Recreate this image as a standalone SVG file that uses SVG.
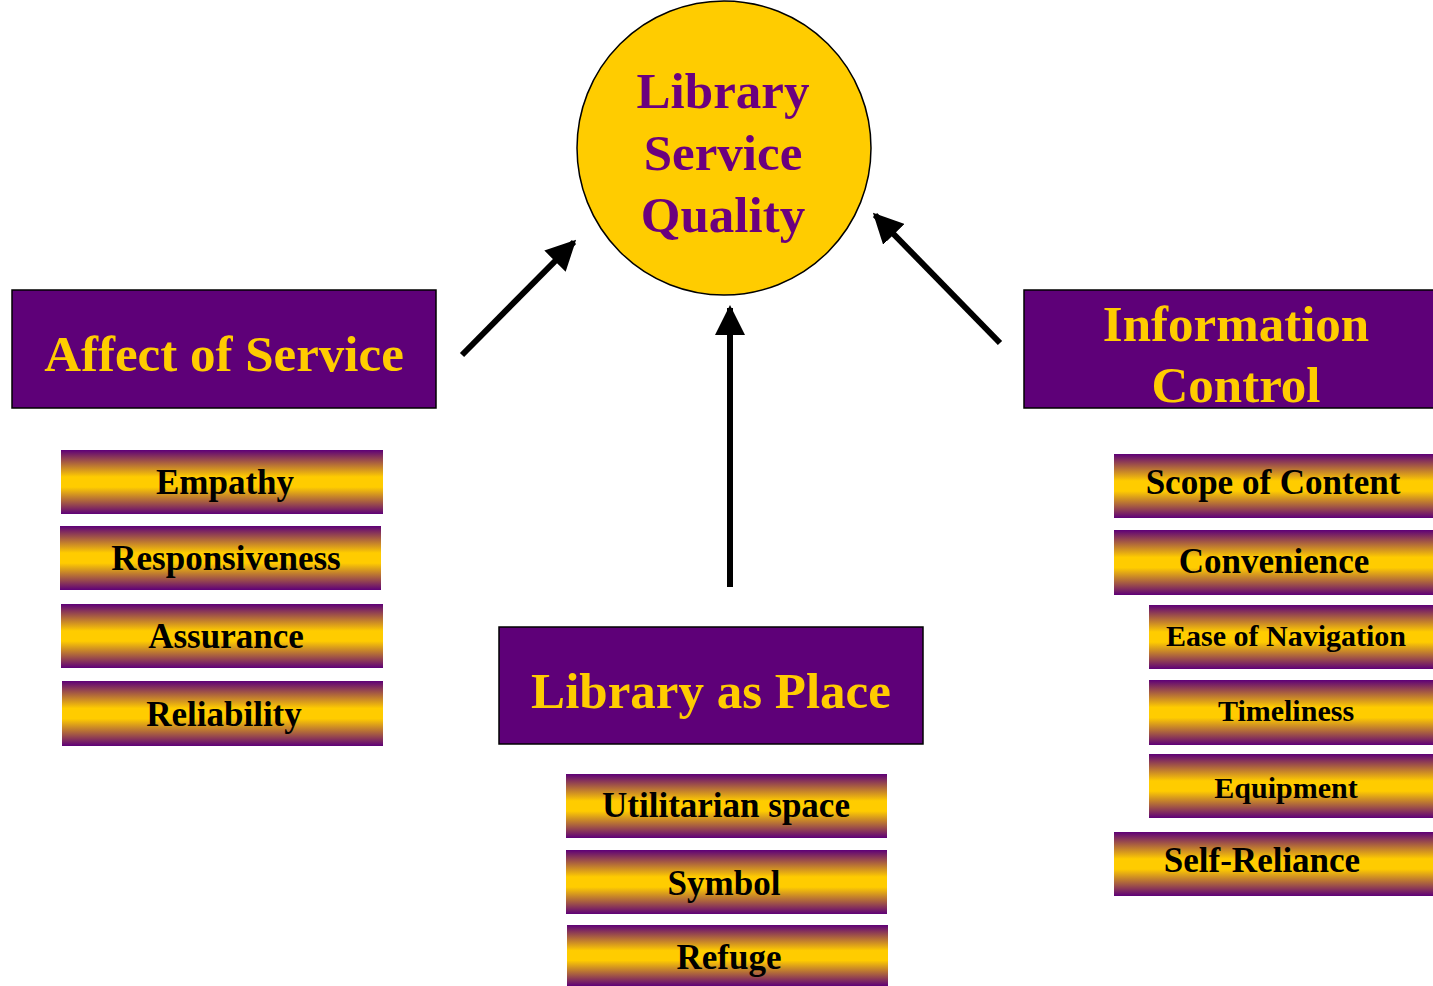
<svg xmlns="http://www.w3.org/2000/svg" width="1433" height="986" viewBox="0 0 1433 986">
<defs>
<linearGradient id="bar" x1="0" y1="0" x2="0" y2="1">
<stop offset="0" stop-color="#5E0078"/>
<stop offset="0.42" stop-color="#FFCC00"/>
<stop offset="0.58" stop-color="#FFCC00"/>
<stop offset="1" stop-color="#5E0078"/>
</linearGradient>
<marker id="ah" viewBox="0 0 10 10" refX="9" refY="5" markerWidth="5" markerHeight="5" orient="auto" markerUnits="strokeWidth">
<path d="M0,0 L10,5 L0,10 z" fill="#000"/>
</marker>
<style>
.hdr{fill:#5E0078;stroke:#000;stroke-width:1.5}
.hdrt{font-family:"Liberation Serif",serif;font-weight:bold;font-size:51px;fill:#FFCC00;text-anchor:middle}
.bar{fill:url(#bar)}
.bt{font-family:"Liberation Serif",serif;font-weight:bold;font-size:35px;fill:#000;text-anchor:middle}
.bts{font-family:"Liberation Serif",serif;font-weight:bold;font-size:30px;fill:#000;text-anchor:middle}
.ct{font-family:"Liberation Serif",serif;font-weight:bold;font-size:51px;fill:#6B007E;text-anchor:middle}
.arr{stroke:#000;stroke-width:6;fill:none;marker-end:url(#ah)}
</style>
</defs>
<rect width="1433" height="986" fill="#fff"/>
<g id="connectors">
<line class="arr" x1="462" y1="355" x2="574" y2="242"/>
<line class="arr" x1="730" y1="587" x2="730" y2="308"/>
<line class="arr" x1="1000" y1="343" x2="875" y2="215"/>
</g>
<g id="quality">
<circle cx="724" cy="148" r="147" fill="#FFCC00" stroke="#000" stroke-width="1.5"/>
<text class="ct" x="723" y="108">Library</text>
<text class="ct" x="723" y="170">Service</text>
<text class="ct" x="723" y="232">Quality</text>
</g>
<g id="affect">
<rect class="hdr" x="12" y="290" width="424" height="118"/>
<text class="hdrt" x="224" y="371">Affect of Service</text>
</g>
<g id="place">
<rect class="hdr" x="499" y="627" width="424" height="117"/>
<text class="hdrt" x="711" y="708">Library as Place</text>
</g>
<g id="info">
<rect class="hdr" x="1024" y="290" width="412" height="118"/>
<text class="hdrt" x="1236" y="341">Information</text>
<text class="hdrt" x="1236" y="402">Control</text>
</g>
<g id="empathy"><rect class="bar" x="61" y="450" width="322" height="64"/><text class="bt" x="225" y="494">Empathy</text></g>
<g id="responsiveness"><rect class="bar" x="60" y="526" width="321" height="64"/><text class="bt" x="226" y="570">Responsiveness</text></g>
<g id="assurance"><rect class="bar" x="61" y="604" width="322" height="64"/><text class="bt" x="226" y="648">Assurance</text></g>
<g id="reliability"><rect class="bar" x="62" y="681" width="321" height="65"/><text class="bt" x="224" y="726">Reliability</text></g>
<g id="utilitarian"><rect class="bar" x="566" y="774" width="321" height="64"/><text class="bt" x="726" y="817">Utilitarian space</text></g>
<g id="symbol"><rect class="bar" x="566" y="850" width="321" height="64"/><text class="bt" x="724" y="895">Symbol</text></g>
<g id="refuge"><rect class="bar" x="567" y="925" width="321" height="61"/><text class="bt" x="729" y="969">Refuge</text></g>
<g id="scope"><rect class="bar" x="1114" y="454" width="319" height="64"/><text class="bt" x="1273" y="494">Scope of Content</text></g>
<g id="convenience"><rect class="bar" x="1114" y="530" width="319" height="65"/><text class="bt" x="1274" y="573">Convenience</text></g>
<g id="navigation"><rect class="bar" x="1149" y="605" width="284" height="64"/><text class="bts" x="1286" y="646">Ease of Navigation</text></g>
<g id="timeliness"><rect class="bar" x="1149" y="680" width="284" height="65"/><text class="bts" x="1286" y="721">Timeliness</text></g>
<g id="equipment"><rect class="bar" x="1149" y="754" width="284" height="64"/><text class="bts" x="1286" y="798">Equipment</text></g>
<g id="selfreliance"><rect class="bar" x="1114" y="832" width="319" height="64"/><text class="bt" x="1262" y="872">Self-Reliance</text></g>
</svg>
